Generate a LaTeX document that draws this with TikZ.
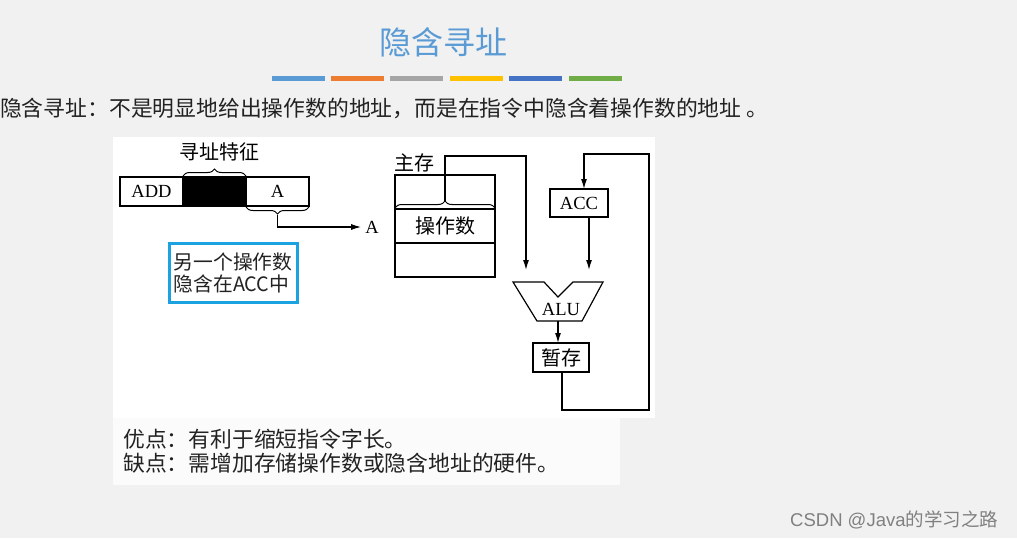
\documentclass[tikz,border=0pt]{standalone}
\usepackage{fontspec}
\setmainfont{Liberation Serif}
\newfontfamily\cjk{Noto Sans CJK SC}
\newfontfamily\wmfont{Liberation Sans}
\usetikzlibrary{arrows.meta,decorations.pathreplacing}
\definecolor{bgc}{HTML}{F1F1F1}
\definecolor{titleblue}{HTML}{5B9BD5}
\definecolor{barA}{HTML}{5B9BD5}
\definecolor{barB}{HTML}{ED7D31}
\definecolor{barC}{HTML}{A5A5A5}
\definecolor{barD}{HTML}{FFC000}
\definecolor{barE}{HTML}{4472C4}
\definecolor{barF}{HTML}{70AD47}
\definecolor{notecol}{HTML}{1AA3E0}
\definecolor{txt}{HTML}{222222}
\begin{document}
\begin{tikzpicture}[x=1pt,y=-1pt,
  ln/.style={line width=1.2pt, draw=black},
  arr/.style={ln, -{Latex[length=10pt,width=6pt]}},
  fld/.style={ln, minimum height=29pt, inner sep=0pt, outer sep=0pt, font=\fontsize{18.5}{20}\selectfont},
  cell/.style={ln, minimum width=100pt, minimum height=34pt, inner sep=0pt, outer sep=0pt, font=\cjk\fontsize{20}{22}\selectfont},
  cjklab/.style={inner sep=0pt, font=\cjk\fontsize{20}{22}\selectfont},
  brc/.style={ln, line width=1pt, decorate, decoration={brace, amplitude=7pt}},
  body/.style={inner sep=0pt, anchor=west, text=txt, font=\cjk\fontsize{21.8}{24}\selectfont}
]
\useasboundingbox (0,0) rectangle (1017,538);
\fill[bgc] (0,0) rectangle (1017,538);
\fill[white] (113,137) rectangle (655,418);
\fill[white!75!bgc] (113,418) rectangle (620,485);

% title and bars
\node[inner sep=0pt, text=titleblue, font=\cjk\fontsize{32}{34}\selectfont] (title) at (443,42) {隐含寻址};
\fill[barA] (272,76) rectangle (325,81);
\fill[barB] (331,76) rectangle (384,81);
\fill[barC] (390,76) rectangle (443,81);
\fill[barD] (450,76) rectangle (503,81);
\fill[barE] (509,76) rectangle (562,81);
\fill[barF] (569,76) rectangle (622,81);

\node[body] (intro) at (0,108) {隐含寻址：不是明显地给出操作数的地址，而是在指令中隐含着操作数的地址 。};

% instruction
\node[fld, minimum width=63pt, anchor=north west] (add) at (120,177) {ADD};
\node[fld, minimum width=63pt, fill=black, anchor=west] (feat) at (add.east) {};
\node[fld, minimum width=63pt, anchor=west] (afld) at (feat.east) {A};
\draw[brc] ([yshift=1pt]feat.north west) -- ([yshift=1pt]feat.north east);
\node[cjklab] (featlab) at (219,152) {寻址特征};
\draw[brc] ([yshift=-1pt]afld.south east) -- ([yshift=-1pt]afld.south west);
\coordinate (atip) at (277.5,215);
\node[inner sep=0pt, font=\fontsize{18.5}{20}\selectfont] (alab) at (372,227) {A};
\draw[arr] (atip) |- ([xshift=-4pt]alab.west);

% note box
\node[draw=notecol, line width=3pt, minimum width=128pt, minimum height=59pt, inner sep=4pt, align=left, text=txt, font=\cjk\fontsize{19.8}{22}\selectfont] (note) at (233,272.5) {另一个操作数\\隐含在ACC中};

% memory
\node[cjklab] (mlab) at (414,163) {主存};
\node[cell, anchor=north west] (mtop) at (395,175) {};
\node[cell, anchor=north] (mop) at (mtop.south) {操作数};
\node[cell, anchor=north] (mbot) at (mop.south) {};
\draw[brc] ([yshift=1pt]mop.north west) -- ([yshift=1pt]mop.north east);
\coordinate (mtip) at (445,201);

% ACC
\node[fld, minimum width=58pt, minimum height=28pt, anchor=north west] (acc) at (550,189) {ACC};

% ALU
\draw[ln] (513,282) -- (544,282) -- (558,297) -- (573,282) -- (603,282) -- (582,321) -- (537,321) -- cycle;
\node[inner sep=0pt, font=\fontsize{18.5}{20}\selectfont] (alu) at (561,309) {ALU};
\coordinate (aluin1) at (526,270);
\coordinate (aluin2) at (589,270);
\coordinate (aluout) at (558,321);

% temp
\node[fld, minimum width=56pt, anchor=north west, font=\cjk\fontsize{20}{22}\selectfont] (tmp) at (533,343) {暂存};

% connectors
\draw[arr] (mtip) |- (526,156) -- (aluin1);
\draw[arr] (acc.south -| aluin2) -- (aluin2);
\draw[arr] (aluout) -- (aluout |- tmp.north);
\draw[arr] (562,372) -- (562,410) -- (649,410) -- (649,154) -- (584,154) -- (584,189);

% pros / cons
\node[body] (pro) at (123,439) {优点：有利于缩短指令字长。};
\node[body] (con) at (123,463) {缺点：需增加存储操作数或隐含地址的硬件。};

% watermark
\node[inner sep=0pt, anchor=west, text=black!50, font=\fontsize{18.5}{20}\selectfont] (wm) at (790,520) {\wmfont CSDN @Java\cjk 的学习之路};
\end{tikzpicture}
\end{document}
